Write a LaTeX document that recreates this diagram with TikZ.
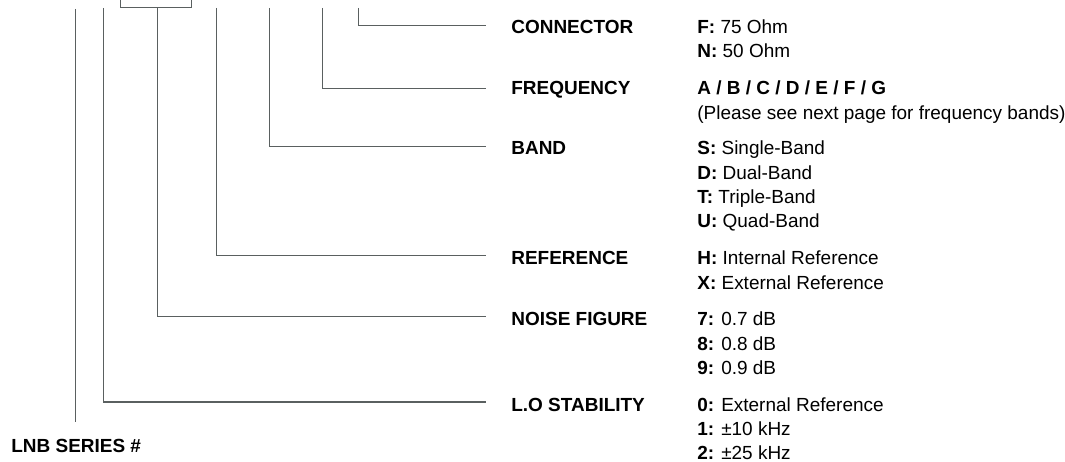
\documentclass[tikz,border=0pt]{standalone}
\usepackage{fontspec}
\setmainfont{Liberation Sans}
\definecolor{leader}{RGB}{90,96,96}

\begin{document}
\begin{tikzpicture}
[ x=0.02cm, y=-0.02cm
, every node/.style={anchor=base west, inner sep=0pt, font=\fontsize{10.8}{13}\selectfont}
, field/.style={font=\bfseries\fontsize{10.8}{13}\selectfont}
, leaderline/.style={draw=leader, line width=0.57pt}
]

\useasboundingbox (0,0) rectangle (1065,462);

% field names
\node[field] (conn)   at (511,33.1)  {CONNECTOR};
\node[field] (freq)   at (511,94.8)  {FREQUENCY};
\node[field] (band)   at (511,154.8) {BAND};
\node[field] (ref)    at (511,264.8) {REFERENCE};
\node[field] (noise)  at (511,325.8) {NOISE FIGURE};
\node[field] (lostab) at (511,411.3) {L.O STABILITY};
\node[field] (series) at (11,452.3)  {LNB SERIES \#};

% codes
\node (connF) at (697,33.5) {\textbf{F:} 75 Ohm};
\node (connN) at (697,57.8) {\textbf{N:} 50 Ohm};

\node (freqA)    at (697,94.8)  {\textbf{A / B / C / D / E / F / G}};
\node (freqNote) at (697,119.3) {(Please see next page for frequency bands)};

\node (bandS) at (697,154.8) {\textbf{S:} Single-Band};
\node (bandD) at (697,179.1) {\textbf{D:} Dual-Band};
\node (bandT) at (697,203.4) {\textbf{T:} Triple-Band};
\node (bandU) at (697,227.8) {\textbf{U:} Quad-Band};

\node (refH) at (697,264.8) {\textbf{H:} Internal Reference};
\node (refX) at (697,289.3) {\textbf{X:} External Reference};

\node (noise7) at (697,325.8) {\textbf{7:} 0.7 dB};
\node (noise8) at (697,350.3) {\textbf{8:} 0.8 dB};
\node (noise9) at (697,374.8) {\textbf{9:} 0.9 dB};

\node (lo0) at (697,411.1) {\textbf{0:} External Reference};
\node (lo1) at (697,435.3) {\textbf{1:} ±10 kHz};
\node (lo2) at (697,459.3) {\textbf{2:} ±25 kHz};

% leader ends
\coordinate (conntop)   at (358,8);
\coordinate (freqtop)   at (322,8);
\coordinate (bandtop)   at (269,8);
\coordinate (reftop)    at (216,8);
\coordinate (noisetop)  at (157,7.4);
\coordinate (lostabtop) at (103,8);
\coordinate (seriestop) at (75,9);

\coordinate (connend)   at (486,26);
\coordinate (freqend)   at (486,88.7);
\coordinate (bandend)   at (486,146.7);
\coordinate (refend)    at (486,256);
\coordinate (noiseend)  at (486,316.7);
\coordinate (lostabend) at (486,402);
\coordinate (seriesend) at (75,421.7);

\coordinate (bracketL) at (120.3,0);
\coordinate (bracketR) at (191.3,0);

\draw[leaderline] (conntop) |- (connend);
\draw[leaderline] (freqtop) |- (freqend);
\draw[leaderline] (bandtop) |- (bandend);
\draw[leaderline] (reftop) |- (refend);
\draw[leaderline] (noisetop) |- (noiseend);
\draw[leaderline] (lostabtop) |- (lostabend);
\draw[leaderline] (seriestop) -- (seriesend);
\draw[leaderline] (bracketL) |- (noisetop) -| (bracketR);

\end{tikzpicture}
\end{document}
